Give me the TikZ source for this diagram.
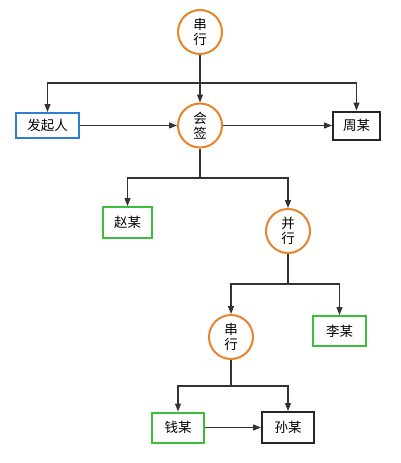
\documentclass[tikz,border=0pt]{standalone}
\usepackage{fontspec}
\newfontfamily\cjk{Noto Sans CJK SC}
\usepackage{xcolor}
\usepackage{tikz}
\usetikzlibrary{arrows.meta, positioning}

\definecolor{gateorange}{HTML}{E8832E}
\definecolor{startblue}{HTML}{2F7ED6}
\definecolor{donegreen}{HTML}{3DBE3A}
\definecolor{linegray}{HTML}{333333}

\begin{document}
\begin{tikzpicture}[
        x=1pt, y=-1pt,
        gate/.style={circle, draw=gateorange, line width=2pt, minimum size=44pt, inner sep=0pt, align=center, font=\cjk\fontsize{13.5}{15.5}\selectfont, fill=white},
        person/.style={rectangle, draw, line width=2pt, minimum height=28pt, minimum width=50pt, inner sep=2pt, font=\cjk\fontsize{13.5}{15}\selectfont, fill=white},
        arrow/.style={draw=linegray, line width=1.1pt, -{Triangle[length=8pt,width=6pt]}},
        bus/.style={draw=linegray, line width=1.1pt}
    ]
        \useasboundingbox (0,0) rectangle (400,463);
        % gates
        \node[gate] (s1) at (200,32) {串\\行};
        \node[gate] (hq) at (200,125.5) {会\\签};
        \node[gate] (bx) at (288,231) {并\\行};
        \node[gate] (s2) at (231,337) {串\\行};
        % people
        \node[person, draw=startblue, minimum width=63pt, minimum height=25pt] (fqr) at (47.5,125.5) {发起人};
        \node[person, draw=black!85, minimum width=47pt] (zhou) at (356.5,125.5) {周某};
        \node[person, draw=donegreen, minimum width=49pt, minimum height=31pt] (zhao) at (127.5,222.5) {赵某};
        \node[person, draw=donegreen, minimum width=53pt, minimum height=30pt] (li) at (339.5,331) {李某};
        \node[person, draw=donegreen, minimum width=52pt, minimum height=30pt] (qian) at (178,427.5) {钱某};
        \node[person, draw=black!85, minimum width=52pt, minimum height=31pt] (sun) at (288,427.5) {孙某};
        % branch points
        \coordinate (j1) at (200,83);
        \coordinate (j2) at (200,178);
        \coordinate (j3) at (288,284);
        \coordinate (j4) at (231,386);
        % connectors
        \draw[bus] (s1) -- (j1);
        \draw[arrow] (j1) -- (hq);
        \draw[arrow] (j1) -| (fqr);
        \draw[arrow] (j1) -| (zhou);
        \draw[arrow] (fqr) -- (hq);
        \draw[arrow] (hq) -- (zhou);
        \draw[bus] (hq) -- (j2);
        \draw[arrow] (j2) -| (zhao);
        \draw[arrow] (j2) -| (bx);
        \draw[bus] (bx) -- (j3);
        \draw[arrow] (j3) -| (s2);
        \draw[arrow] (j3) -| (li);
        \draw[bus] (s2) -- (j4);
        \draw[arrow] (j4) -| (qian);
        \draw[arrow] (j4) -| (sun);
        \draw[arrow] (qian) -- (sun);
    \end{tikzpicture}
\end{document}
